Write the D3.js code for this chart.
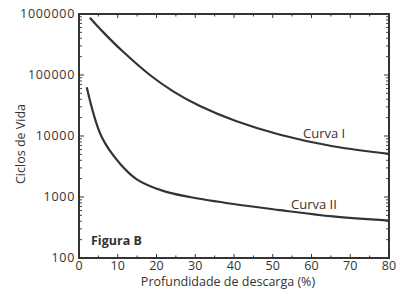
<!DOCTYPE html>
<html><head><meta charset="utf-8">
<script src="https://cdn.jsdelivr.net/npm/d3@7"></script>
<style>
body{margin:0;background:#fff;}
text{font-family:"Open Sans",sans-serif;fill:#333;}
</style></head>
<body><svg id="c" width="400" height="302"></svg>
<script>
const curveIx = [2.8, 6.3, 11.4, 18.3, 24.3, 31.2, 40.3, 51.9, 65.5, 80];
const curveIy = [870000, 500000, 240000, 100000, 54000, 31000, 17800, 10500, 6800, 5100];
const curveIIx = [2, 5.8, 10.6, 14.9, 21.7, 28.6, 40.3, 51.9, 65.5, 80];
const curveIIy = [63000, 9800, 3500, 1950, 1260, 1000, 760, 610, 480, 410];
const xTicks = [0, 10, 20, 30, 40, 50, 60, 70, 80];
const yTicks = [100, 1000, 10000, 100000, 1000000];
const labels = ["Curva I", "Curva II"];

const svg = d3.select("#c");
const L = 79, R = 389, T = 14, B = 258;
const x = d3.scaleLinear().domain([0, 80]).range([L, R]);
const y = d3.scaleLog().domain([100, 1000000]).range([B, T]);
const col = "#333";

const xMinor = d3.range(0, 81, 5);
const yMinor = [];
for (let d = 100; d < 1000000; d *= 10) for (let k = 2; k <= 9; k++) yMinor.push(d * k);

const g = svg.append("g");
xMinor.forEach(v => {
  const len = (v % 10 === 0) ? 4 : 2.5;
  g.append("line").attr("x1", x(v)).attr("x2", x(v)).attr("y1", B).attr("y2", B - len).attr("stroke", col).attr("stroke-width", 1);
  g.append("line").attr("x1", x(v)).attr("x2", x(v)).attr("y1", T).attr("y2", T + len).attr("stroke", col).attr("stroke-width", 1);
});
yTicks.forEach(v => {
  g.append("line").attr("x1", L).attr("x2", L + 5).attr("y1", y(v)).attr("y2", y(v)).attr("stroke", col).attr("stroke-width", 1);
  g.append("line").attr("x1", R).attr("x2", R - 5).attr("y1", y(v)).attr("y2", y(v)).attr("stroke", col).attr("stroke-width", 1);
});
yMinor.forEach(v => {
  g.append("line").attr("x1", L).attr("x2", L + 3).attr("y1", y(v)).attr("y2", y(v)).attr("stroke", col).attr("stroke-width", 0.9);
  g.append("line").attr("x1", R).attr("x2", R - 3).attr("y1", y(v)).attr("y2", y(v)).attr("stroke", col).attr("stroke-width", 0.9);
});

svg.append("rect").attr("x", L).attr("y", T).attr("width", R - L).attr("height", B - T)
  .attr("fill", "none").attr("stroke", col).attr("stroke-width", 2);

svg.selectAll(".xl").data(xTicks).enter().append("text")
  .attr("x", d => x(d)).attr("y", 270).attr("text-anchor", "middle")
  .attr("font-size", "12.5px").text(d => d);
svg.selectAll(".yl").data(yTicks).enter().append("text")
  .attr("x", 75).attr("y", d => y(d) + 4).attr("text-anchor", "end")
  .attr("font-size", "12.5px").attr("letter-spacing", "0.7px").text(d => d);

svg.append("text").attr("x", 228).attr("y", 286).attr("text-anchor", "middle")
  .attr("font-size", "12.5px").text("Profundidade de descarga (%)");
svg.append("text").attr("transform", "translate(25,144) rotate(-90)").attr("text-anchor", "middle")
  .attr("font-size", "12.5px").text("Ciclos de Vida");

const line = d3.line().x(d => x(d[0])).y(d => y(d[1])).curve(d3.curveCatmullRom.alpha(0.5));
[[curveIx, curveIy], [curveIIx, curveIIy]].forEach(([xs, ys]) => {
  svg.append("path").datum(xs.map((v, i) => [v, ys[i]])).attr("d", line)
    .attr("fill", "none").attr("stroke", col).attr("stroke-width", 2.2);
});

svg.append("text").attr("x", 303).attr("y", 138).attr("font-size", "13px").text(labels[0]);
svg.append("text").attr("x", 291).attr("y", 209).attr("font-size", "13px").text(labels[1]);
svg.append("text").attr("x", 91).attr("y", 245).attr("font-size", "12.5px").attr("font-weight", "bold").text("Figura B");
</script></body></html>
